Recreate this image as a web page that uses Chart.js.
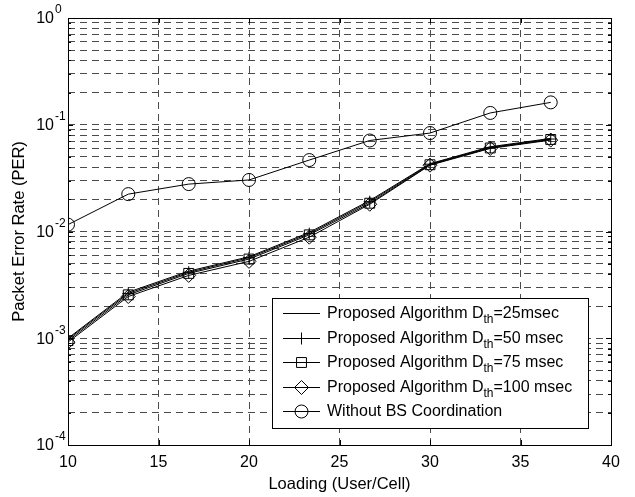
<!DOCTYPE html>
<html>
<head>
<meta charset="utf-8">
<script src="https://cdn.jsdelivr.net/npm/chart.js@4.4.0/dist/chart.umd.min.js"></script>
<style>
  html, body { margin: 0; padding: 0; background: #fff; }
</style>
</head>
<body>
<canvas id="perChart" width="635" height="497"></canvas>
<script>
// loading points (users per cell)
const loading = [10, 13.33, 16.67, 20, 23.33, 26.67, 30, 33.33, 36.67];

// packet error rate per curve
const perD25  = [0.00100, 0.00270, 0.00425, 0.00580, 0.00980, 0.0195, 0.0432, 0.0622, 0.0745];
const perD50  = [0.00098, 0.00263, 0.00415, 0.00568, 0.00955, 0.0190, 0.0427, 0.0614, 0.0735];
const perD75  = [0.00095, 0.00255, 0.00405, 0.00552, 0.00930, 0.0184, 0.0422, 0.0606, 0.0728];
const perD100 = [0.00092, 0.00246, 0.00388, 0.00525, 0.00885, 0.0180, 0.0418, 0.0600, 0.0718];
const perNoCoord = [0.0116, 0.0224, 0.0278, 0.0304, 0.0467, 0.0712, 0.0836, 0.129, 0.162];

const xTicks = [10, 15, 20, 25, 30, 35, 40];
const yExponents = [0, -1, -2, -3, -4];
const yMinor = [1, 2, 3, 4, 5, 6, 7, 8, 9];

const legendLabels = [
  ["Proposed Algorithm D", "th", "=25msec"],
  ["Proposed Algorithm D", "th", "=50 msec"],
  ["Proposed Algorithm D", "th", "=75 msec"],
  ["Proposed Algorithm D", "th", "=100 msec"],
  ["Without BS Coordination", "", ""]
];

const FONT = '"Liberation Sans", Arial, sans-serif';
const DASH = [7, 5];

const yTickValues = [];
yExponents.forEach(e => {
  if (e === 0) { yTickValues.push(1); return; }
  yMinor.forEach(m => yTickValues.push(m * Math.pow(10, e)));
});

function makeSet(label, values, style, radius) {
  return {
    label: label,
    data: loading.map((x, i) => ({ x: x, y: values[i] })),
    borderColor: "#000",
    borderWidth: 1,
    pointStyle: style,
    pointRadius: radius,
    pointBorderColor: "#000",
    pointBackgroundColor: "rgba(0,0,0,0)",
    pointBorderWidth: 1,
    tension: 0,
    fill: false
  };
}

const datasets = [
  makeSet("D25", perD25, "line", 0),
  makeSet("D50", perD50, "cross", 6),
  makeSet("D75", perD75, "rect", 7),
  makeSet("D100", perD100, "rectRot", 7),
  makeSet("NoCoord", perNoCoord, "circle", 6.5)
];

// frame, inward ticks, superscript y labels, legend
const decorPlugin = {
  id: "decor",
  afterDraw(chart) {
    const ctx = chart.ctx;
    const a = chart.chartArea;
    const xs = chart.scales.x, ys = chart.scales.y;
    ctx.save();
    ctx.strokeStyle = "#000";
    ctx.lineWidth = 1;

    // inward ticks
    ctx.beginPath();
    xTicks.forEach(v => {
      const px = Math.round(xs.getPixelForValue(v)) + 0.5;
      ctx.moveTo(px, a.bottom); ctx.lineTo(px, a.bottom - 5);
      ctx.moveTo(px, a.top); ctx.lineTo(px, a.top + 5);
    });
    yTickValues.forEach(v => {
      const py = Math.round(ys.getPixelForValue(v)) + 0.5;
      const len = Math.abs(Math.log10(v) - Math.round(Math.log10(v))) < 1e-6 ? 5 : 3;
      ctx.moveTo(a.left, py); ctx.lineTo(a.left + len, py);
      ctx.moveTo(a.right, py); ctx.lineTo(a.right - len, py);
    });
    ctx.stroke();

    // frame
    ctx.strokeRect(Math.round(a.left) + 0.5, Math.round(a.top) + 0.5,
                   Math.round(a.right - a.left), Math.round(a.bottom - a.top));

    // y labels 10^n
    ctx.fillStyle = "#000";
    yExponents.forEach(e => {
      const py = ys.getPixelForValue(Math.pow(10, e));
      ctx.font = "16px " + FONT;
      ctx.textAlign = "right";
      ctx.textBaseline = "middle";
      ctx.fillText("10", a.left - 14, py + 1);
      ctx.font = "12px " + FONT;
      ctx.textAlign = "left";
      ctx.fillText(String(e), a.left - 13, py - 8);
    });

    // legend
    const boxR = a.right - 23, boxB = a.bottom - 17;
    const boxW = 316, boxH = 130;
    const boxL = boxR - boxW, boxT = boxB - boxH;
    ctx.fillStyle = "#fff";
    ctx.fillRect(boxL, boxT, boxW, boxH);
    ctx.strokeRect(Math.round(boxL) + 0.5, Math.round(boxT) + 0.5, boxW, boxH);
    const rowH = 24.5;
    datasets.forEach((ds, i) => {
      const cy = Math.round(boxT + 15 + i * rowH) + 0.5;
      const x0 = boxL + 11, x1 = boxL + 48, cx = (x0 + x1) / 2;
      ctx.strokeStyle = "#000";
      ctx.beginPath(); ctx.moveTo(x0, cy); ctx.lineTo(x1, cy); ctx.stroke();
      if (ds.pointRadius > 0) {
        ctx.fillStyle = "rgba(0,0,0,0)";
        Chart.helpers.drawPoint(ctx, { pointStyle: ds.pointStyle, radius: ds.pointRadius, borderWidth: 1, rotation: 0 }, cx, cy);
      }
      const parts = legendLabels[i];
      ctx.fillStyle = "#000";
      ctx.textAlign = "left";
      ctx.textBaseline = "middle";
      let tx = boxL + 55;
      ctx.font = "16px " + FONT;
      ctx.fillText(parts[0], tx, cy);
      tx += ctx.measureText(parts[0]).width;
      if (parts[1]) {
        ctx.font = "12px " + FONT;
        ctx.fillText(parts[1], tx, cy + 6);
        tx += ctx.measureText(parts[1]).width;
        ctx.font = "16px " + FONT;
        ctx.fillText(parts[2], tx, cy);
      }
    });
    ctx.restore();
  }
};

const ctx = document.getElementById("perChart").getContext("2d");
new Chart(ctx, {
  type: "line",
  data: { datasets: datasets },
  options: {
    responsive: false,
    animation: false,
    devicePixelRatio: 1,
    layout: { padding: { left: 0, top: 18, right: 24, bottom: 0 } },
    plugins: { legend: { display: false }, tooltip: { enabled: false } },
    scales: {
      x: {
        type: "linear",
        min: 10,
        max: 40,
        afterBuildTicks: s => { s.ticks = xTicks.map(v => ({ value: v })); },
        afterFit: s => { s.height = 52; },
        ticks: { color: "#000", font: { family: FONT, size: 16 }, padding: 8 },
        grid: { color: "#4a4a4a", lineWidth: 1, drawTicks: false },
        border: { display: false, dash: DASH },
        title: { display: true, text: "Loading (User/Cell)", color: "#000",
                 font: { family: FONT, size: 16.5 }, padding: { top: 0, bottom: 3 } }
      },
      y: {
        type: "logarithmic",
        min: 1e-4,
        max: 1,
        afterBuildTicks: s => { s.ticks = yTickValues.map(v => ({ value: v })); },
        afterFit: s => { s.width = 68; },
        ticks: { display: false },
        grid: { color: "#4a4a4a", lineWidth: 1, drawTicks: false },
        border: { display: false, dash: DASH },
        title: { display: true, text: "Packet Error Rate (PER)", color: "#000",
                 font: { family: FONT, size: 16.5 }, padding: { top: 10, bottom: 0 } }
      }
    }
  },
  plugins: [decorPlugin]
});
</script>
</body>
</html>
